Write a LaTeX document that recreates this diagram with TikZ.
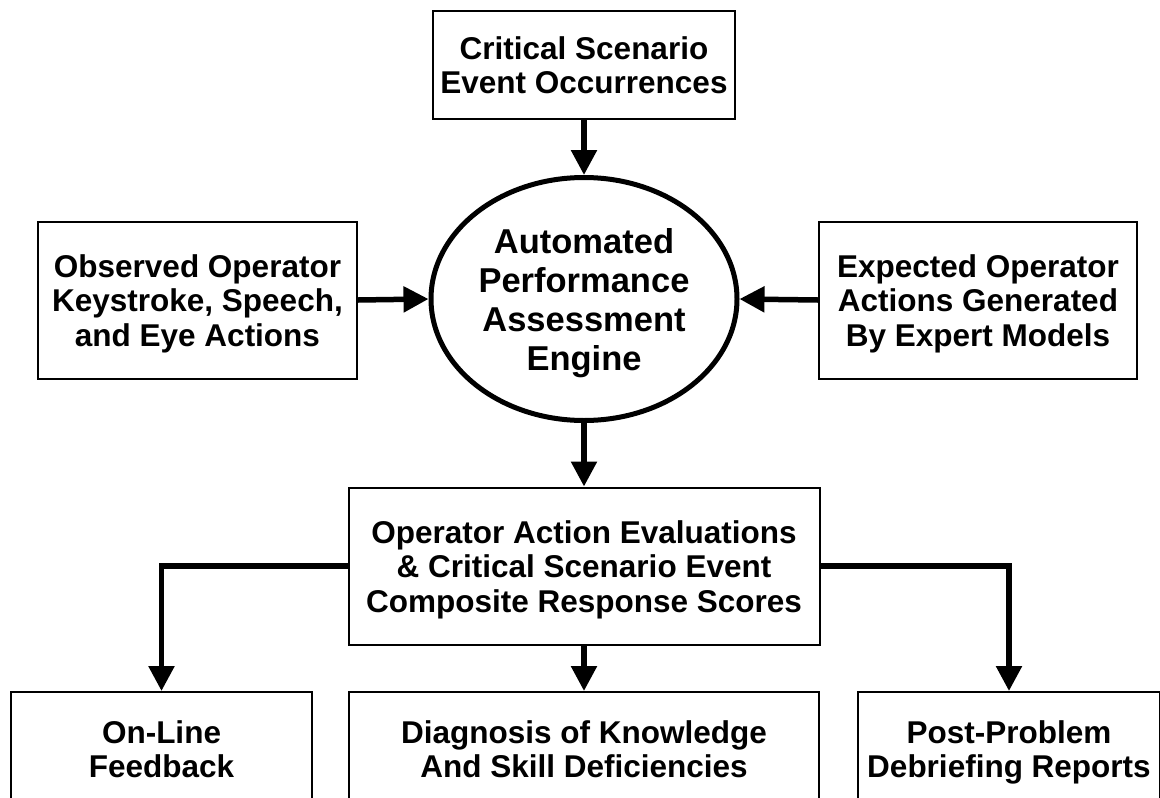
\documentclass[tikz,border=0pt]{standalone}
\usepackage{fontspec}
\setmainfont{Liberation Sans}
\usetikzlibrary{shapes.geometric,arrows.meta}
\newcommand\tstr{\rule{0pt}{30pt}}
\newcommand\bstr{\rule[-7pt]{0pt}{7pt}}
\newcommand\etstr{\rule{0pt}{33pt}}
\newcommand\ebstr{\rule[-8pt]{0pt}{8pt}}
\begin{document}
\begin{tikzpicture}[x=1pt,y=-1pt,
  boxnode/.style={draw=black, line width=2pt, rectangle, align=center, inner sep=0pt,
    font=\bfseries\fontsize{31.5}{34.5}\selectfont},
  enginenode/.style={draw=black, line width=5pt, ellipse, align=center, inner sep=0pt,
    font=\bfseries\fontsize{34.5}{39}\selectfont},
  flow/.style={line width=5.5pt, -{Triangle[length=25pt,width=25pt]}}]
\clip (0,0) rectangle (1160,798);
\fill[white] (0,0) rectangle (1160,798);
\node[boxnode, minimum width=302pt, minimum height=108pt] (top) at (584,65) {\tstr Critical Scenario\\Event Occurrences\bstr};
\node[enginenode, minimum width=306pt, minimum height=243pt] (engine) at (584,299) {\etstr Automated\\Performance\\Assessment\\Engine\ebstr};
\node[boxnode, minimum width=319pt, minimum height=157pt] (left) at (197.5,300) {\tstr Observed Operator\\Keystroke, Speech,\\and Eye Actions\bstr};
\node[boxnode, minimum width=318pt, minimum height=157pt] (right) at (978,300) {\tstr Expected Operator\\Actions Generated\\By Expert Models\bstr};
\node[boxnode, minimum width=471pt, minimum height=157pt] (eval) at (584,566) {\tstr Operator Action Evaluations\\\& Critical Scenario Event\\Composite Response Scores\bstr};
\node[boxnode, minimum width=301pt, minimum height=114pt, anchor=north] (b1) at (161.5,691) {\tstr On-Line\\Feedback\bstr};
\node[boxnode, minimum width=470pt, minimum height=114pt, anchor=north] (b2) at (584,691) {\tstr Diagnosis of Knowledge\\And Skill Deficiencies\bstr};
\node[boxnode, minimum width=302pt, minimum height=114pt, anchor=north] (b3) at (1009,691) {\tstr Post-Problem\\Debriefing Reports\bstr};
\draw[flow] (top.south) -- (engine.north);
\draw[flow] (left.east) -- (engine.west);
\draw[flow] (right.west) -- (engine.east);
\draw[flow] (engine.south) -- (eval.north);
\draw[flow] (eval.south) -- (b2.north);
\draw[flow] (eval.west) -| (b1.north);
\draw[flow] (eval.east) -| (b3.north);
\end{tikzpicture}
\end{document}
